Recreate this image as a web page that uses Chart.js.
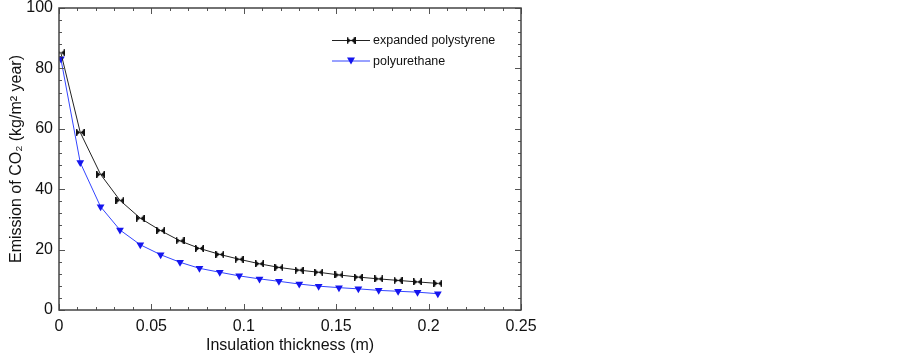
<!DOCTYPE html>
<html>
<head>
<meta charset="utf-8">
<script src="https://cdn.jsdelivr.net/npm/chart.js@4.4.0/dist/chart.umd.min.js"></script>
<style>
  html, body { margin: 0; padding: 0; background: #fff; }
  #wrap { width: 903px; height: 355px; position: relative; }
</style>
</head>
<body>
<div id="wrap"><canvas id="chart"></canvas></div>
<script>
const thickness = [0.001, 0.0115, 0.0225, 0.033, 0.044, 0.055, 0.0655, 0.076, 0.087, 0.0975,
                   0.1085, 0.119, 0.13, 0.1405, 0.1515, 0.162, 0.173, 0.1835, 0.194, 0.205];
const polystyrene = [85.2, 58.8, 44.9, 36.3, 30.4, 26.3, 22.9, 20.4, 18.4, 16.8,
                     15.3, 14.1, 13.2, 12.5, 11.6, 10.9, 10.3, 9.8, 9.3, 8.8];
const polyurethane = [83.2, 48.8, 34.2, 26.5, 21.6, 18.3, 15.8, 13.8, 12.5, 11.3,
                      10.3, 9.5, 8.6, 7.9, 7.4, 7.0, 6.5, 6.2, 5.9, 5.4];
const seriesNames = ['expanded polystyrene', 'polyurethane'];
const xTitle = 'Insulation thickness (m)';
const yTitle = 'Emission of CO\u2082 (kg/m\u00B2 year)';

const FONT = "'Liberation Sans', Arial, sans-serif";

// bowtie marker |><|
function bowtie(color) {
    const c = document.createElement('canvas');
    c.width = 9; c.height = 7;
    const g = c.getContext('2d');
    g.fillStyle = color;
    g.beginPath();
    g.moveTo(0, 0); g.lineTo(4.5, 3.5); g.lineTo(0, 7); g.closePath();
    g.moveTo(9, 0); g.lineTo(4.5, 3.5); g.lineTo(9, 7); g.closePath();
    g.fill();
    g.fillRect(0, 0, 1.5, 7);
    g.fillRect(7.5, 0, 1.5, 7);
    return c;
}
const bowtieMark = bowtie('#111');

const frameTicks = {
    id: 'frameTicks',
    afterDatasetsDraw(chart) {
        const { ctx, chartArea: a, scales: { x, y } } = chart;
        ctx.save();
        ctx.strokeStyle = '#555';
        ctx.lineWidth = 1;
        ctx.beginPath();
        for (let i = 0; i <= 25; i++) {
            const px = Math.round(x.getPixelForValue(i * 0.01)) + 0.5;
            const len = i % 5 === 0 ? 6 : 3;
            ctx.moveTo(px, a.bottom); ctx.lineTo(px, a.bottom - len);
            ctx.moveTo(px, a.top); ctx.lineTo(px, a.top + len);
        }
        for (let i = 0; i <= 25; i++) {
            const py = Math.round(y.getPixelForValue(i * 4)) + 0.5;
            const len = i % 5 === 0 ? 6 : 3;
            ctx.moveTo(a.left, py); ctx.lineTo(a.left + len, py);
            ctx.moveTo(a.right, py); ctx.lineTo(a.right - len, py);
        }
        ctx.stroke();
        ctx.lineWidth = 1.5;
        ctx.strokeStyle = '#444';
        ctx.strokeRect(a.left, a.top, a.right - a.left, a.bottom - a.top);

        // legend
        ctx.font = '12.5px ' + FONT;
        ctx.textBaseline = 'middle';
        chart.data.datasets.forEach((ds, i) => {
            const ly = 40 + i * 20.5;
            ctx.strokeStyle = ds.borderColor;
            ctx.lineWidth = 1;
            ctx.beginPath();
            ctx.moveTo(332, ly + 0.5); ctx.lineTo(370, ly + 0.5);
            ctx.stroke();
            if (ds.pointStyle instanceof HTMLCanvasElement) {
                ctx.drawImage(ds.pointStyle, 351 - 4.5, ly - 3);
            } else {
                ctx.fillStyle = ds.pointBackgroundColor;
                ctx.beginPath();
                ctx.moveTo(347, ly - 3); ctx.lineTo(355, ly - 3); ctx.lineTo(351, ly + 4);
                ctx.closePath(); ctx.fill();
            }
            ctx.fillStyle = '#111';
            ctx.fillText(ds.label, 373, ly + 1);
        });
        ctx.restore();
    }
};

new Chart(document.getElementById('chart'), {
    type: 'line',
    data: {
        datasets: [
            {
                label: seriesNames[0],
                data: thickness.map((t, i) => ({ x: t, y: polystyrene[i] })),
                borderColor: '#222',
                borderWidth: 1,
                pointStyle: bowtieMark,
                pointBackgroundColor: '#111',
                tension: 0
            },
            {
                label: seriesNames[1],
                data: thickness.map((t, i) => ({ x: t, y: polyurethane[i] })),
                borderColor: '#3344ff',
                borderWidth: 1,
                pointStyle: 'triangle',
                rotation: 180,
                radius: 4.5,
                pointBackgroundColor: '#1515ee',
                pointBorderColor: '#1515ee',
                pointBorderWidth: 0,
                tension: 0
            }
        ]
    },
    plugins: [frameTicks],
    options: {
        responsive: true,
        maintainAspectRatio: false,
        animation: false,
        events: [],
        layout: { padding: { top: 8, right: 382, left: 0, bottom: 0 } },
        plugins: { legend: { display: false }, tooltip: { enabled: false } },
        scales: {
            x: {
                type: 'linear',
                min: 0, max: 0.25,
                grid: { display: false, drawTicks: false },
                border: { display: false },
                ticks: {
                    stepSize: 0.05,
                    padding: 7,
                    color: '#111',
                    font: { family: FONT, size: 16 },
                    maxRotation: 0,
                    callback: v => String(Number(v.toFixed(2)))
                },
                title: {
                    display: true, text: xTitle, color: '#111',
                    font: { family: FONT, size: 16 },
                    padding: { top: 0, bottom: 0 }
                },
                afterFit: s => { s.height = 45; s.paddingLeft = 0; s.paddingRight = 0; }
            },
            y: {
                min: 0, max: 100,
                grid: { display: false, drawTicks: false },
                border: { display: false },
                ticks: {
                    stepSize: 20,
                    padding: 6,
                    color: '#111',
                    font: { family: FONT, size: 16 }
                },
                title: {
                    display: true, text: yTitle, color: '#111',
                    font: { family: FONT, size: 16 },
                    padding: { top: 7, bottom: 0 }
                },
                afterFit: s => { s.width = 59; s.paddingTop = 0; s.paddingBottom = 0; }
            }
        }
    }
});
</script>
</body>
</html>
